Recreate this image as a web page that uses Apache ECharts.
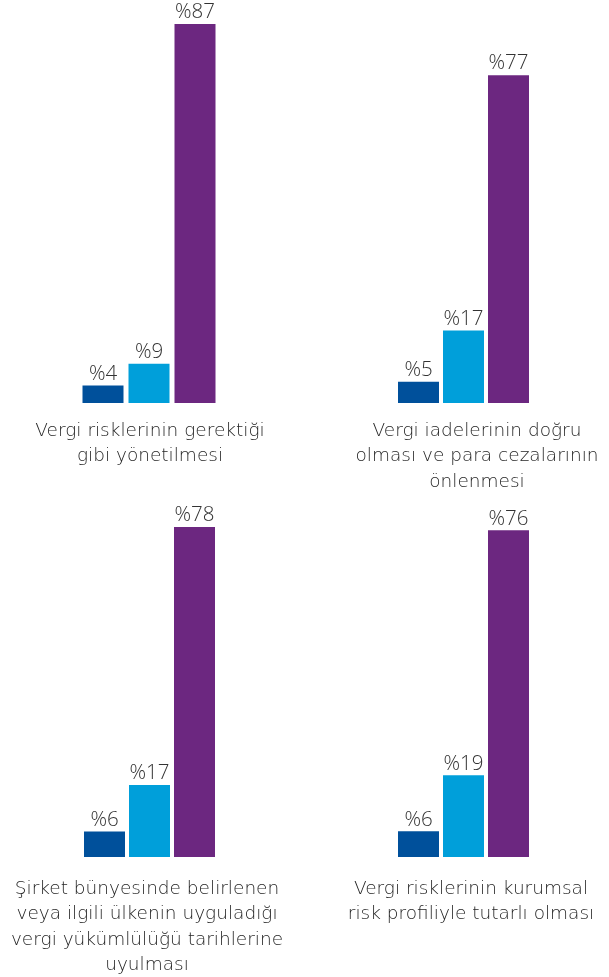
<!DOCTYPE html>
<html>
<head>
<meta charset="utf-8">
<script src="https://cdn.jsdelivr.net/npm/echarts@6/dist/echarts.min.js"></script>
<style>
  html, body { margin: 0; padding: 0; background: #fff; }
  #chart { width: 609px; height: 977px; }
</style>
</head>
<body>
<div id="chart"></div>
<script>
// kategoriler (her panel bir soru)
const kategoriler = [
  'Vergi risklerinin gerektiği\ngibi yönetilmesi',
  'Vergi iadelerinin doğru\nolması ve para cezalarının\nönlenmesi',
  'Şirket bünyesinde belirlenen\nveya ilgili ülkenin uyguladığı\nvergi yükümlülüğü tarihlerine\nuyulması',
  'Vergi risklerinin kurumsal\nrisk profiliyle tutarlı olması'
];
// üç çubuk serisi (%)
const koyuMavi = [4, 5, 6, 6];
const acikMavi = [9, 17, 17, 19];
const mor = [87, 77, 78, 76];

const renkler = ['#00509b', '#009fda', '#6c2780'];
const yaziRengi = '#333333';
const font = '"Open Sans", Roboto, sans-serif';
const font2 = '"DejaVu Sans", "Open Sans", sans-serif';

// panel yerleşimi
const paneller = [
  { left: 80, width: 138, top: 10, height: 393, max: 90.2, textX: 150, textY: 418 },
  { left: 396, width: 135, top: 10, height: 393, max: 92.3, textX: 477, textY: 418 },
  { left: 82, width: 135, top: 464, height: 393, max: 92.9, textX: 147, textY: 876 },
  { left: 396, width: 135, top: 464, height: 393, max: 91.4, textX: 471, textY: 876 }
];

const grid = [], xAxis = [], yAxis = [], series = [], graphic = [];
paneller.forEach(function (p, i) {
  grid.push({ left: p.left, width: p.width, top: p.top, height: p.height });
  xAxis.push({
    type: 'category', gridIndex: i, data: ['a', 'b', 'c'],
    show: false
  });
  yAxis.push({
    type: 'value', gridIndex: i, min: 0, max: p.max, show: false
  });
  const degerler = [koyuMavi[i], acikMavi[i], mor[i]];
  series.push({
    type: 'bar',
    xAxisIndex: i,
    yAxisIndex: i,
    barWidth: 41,
    data: degerler.map(function (v, j) {
      return { value: v, itemStyle: { color: renkler[j] } };
    }),
    label: {
      show: true,
      position: 'top',
      distance: 1,
      formatter: '%{c}',
      color: yaziRengi,
      fontSize: 20.5,
      fontFamily: font,
      fontWeight: 300
    },
    silent: true
  });
  graphic.push({
    type: 'text',
    x: p.textX,
    y: p.textY,
    style: {
      text: kategoriler[i],
      align: 'center',
      verticalAlign: 'top',
      fill: '#262626',
      fontSize: 18.5,
      fontFamily: font2,
      fontWeight: 200,
      lineHeight: 25.5
    }
  });
});

const myChart = echarts.init(document.getElementById('chart'));
myChart.setOption({
  animation: false,
  grid: grid,
  xAxis: xAxis,
  yAxis: yAxis,
  series: series,
  graphic: graphic
});
</script>
</body>
</html>
